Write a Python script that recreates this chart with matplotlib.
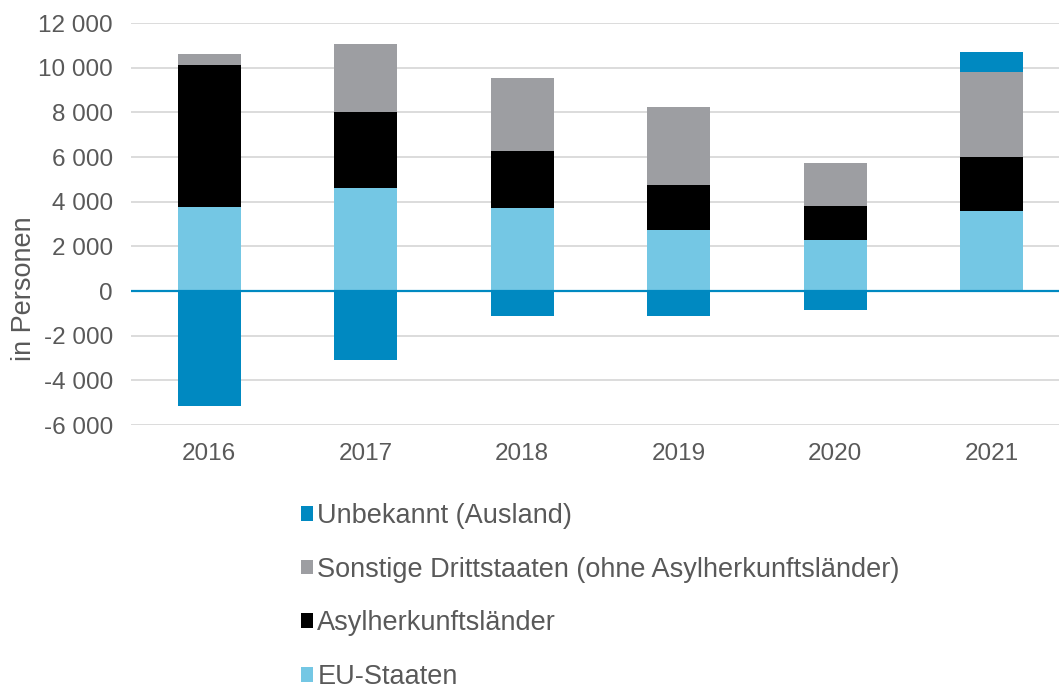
import matplotlib
matplotlib.use("Agg")
import matplotlib.pyplot as plt
from matplotlib.ticker import FuncFormatter

plt.rcParams['font.family'] = ['Liberation Sans', 'DejaVu Sans']

years = ["2016", "2017", "2018", "2019", "2020", "2021"]
eu_staaten = [3750, 4625, 3715, 2750, 2300, 3570]
asylherkunft = [6350, 3375, 2555, 2010, 1510, 2430]
sonstige = [510, 3075, 3280, 3480, 1920, 3790]
unbekannt = [-5160, -3075, -1135, -1105, -835, 930]

labels = ["Unbekannt (Ausland)",
          "Sonstige Drittstaaten (ohne Asylherkunftsländer)",
          "Asylherkunftsländer",
          "EU-Staaten"]
colors = {"eu": "#74c7e4", "asyl": "#000000", "sonst": "#9d9ea2", "unbek": "#0089c1"}
text_color = "#595959"

W, H = 1059, 686
fig = plt.figure(figsize=(W / 100, H / 100), dpi=100)
left, right, top, bottom = 131, 1070, 23, 425
ax = fig.add_axes([left / W, 1 - bottom / H, (right - left) / W, (bottom - top) / H])

x = list(range(len(years)))
width = 0.40

b_eu = ax.bar(x, eu_staaten, width, color=colors["eu"], zorder=3)
b_asyl = ax.bar(x, asylherkunft, width, bottom=eu_staaten, color=colors["asyl"], zorder=3)
base2 = [a + b for a, b in zip(eu_staaten, asylherkunft)]
b_sonst = ax.bar(x, sonstige, width, bottom=base2, color=colors["sonst"], zorder=3)
base3 = [a + b for a, b in zip(base2, sonstige)]
# unknown origin sits below zero when negative, on top of the stack when positive
unbek_bottom = [b if v > 0 else 0 for b, v in zip(base3, unbekannt)]
b_unbek = ax.bar(x, unbekannt, width, bottom=unbek_bottom, color=colors["unbek"], zorder=3)

ax.set_xlim(-0.5, len(years) - 0.5)
ax.set_ylim(-6000, 12000)
ax.set_yticks(range(-6000, 12001, 2000))
ax.yaxis.set_major_formatter(FuncFormatter(lambda v, p: f"{int(v):,}".replace(",", " ")))
ax.set_xticks(x)
ax.set_xticklabels(years)

ax.grid(axis="y", color="#d9d9d9", linewidth=1.3, zorder=0)
ax.axhline(0, color="#0089c1", linewidth=1.6, zorder=4)
for s in ax.spines.values():
    s.set_visible(False)
ax.tick_params(axis="both", length=0, labelsize=17.5, colors=text_color)
ax.tick_params(axis="y", pad=13)
ax.tick_params(axis="x", pad=13)

fig.text(24 / W, 1 - 289 / H, "in Personen", rotation=90, va="center", ha="center",
         fontsize=19.5, color=text_color)

leg = fig.legend([b_unbek, b_sonst, b_asyl, b_eu], labels,
                 loc="upper left", bbox_to_anchor=(301 / W, 1 - 503 / H),
                 frameon=False, fontsize=19.5, handlelength=0.45, handleheight=0.45,
                 handletextpad=0.15, labelspacing=1.02, borderpad=0, borderaxespad=0)
for t in leg.get_texts():
    t.set_color(text_color)

fig.savefig("out.png", dpi=100)
